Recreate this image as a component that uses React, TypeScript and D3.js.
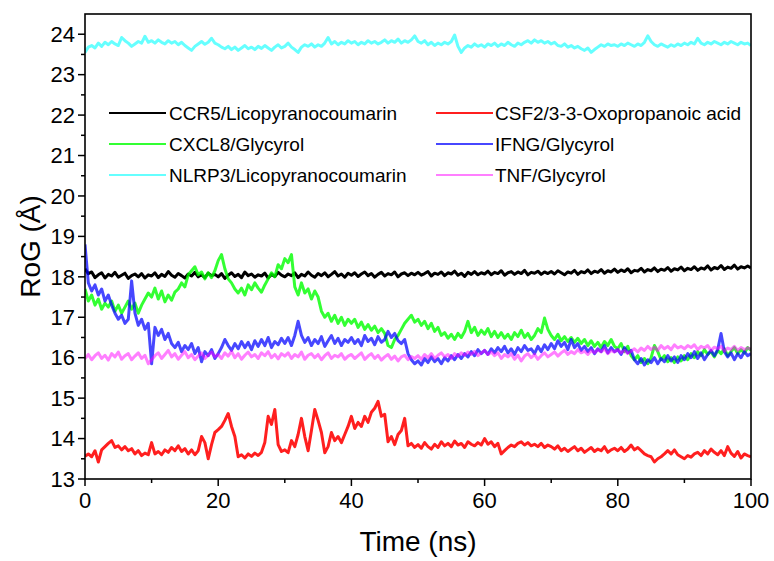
import React from "react";
import * as d3 from "d3";

// RoG traces, one value every 0.5 ns from 0 to 100 ns
const timeStep = 0.5;

const ccr5 = [
  18.20, 18.08, 18.12, 17.98, 18.05, 18.10, 17.97, 18.06, 18.02, 18.11, 17.99, 18.04, 18.09, 17.96, 18.03, 18.07, 18.00, 18.08, 17.97, 18.05,
  18.02, 18.10, 17.98, 18.06, 18.01, 18.13, 18.04, 17.99, 18.08, 18.03, 17.97, 18.07, 18.02, 18.11, 18.00, 18.05, 17.98, 18.09, 18.03, 18.06,
  18.00, 18.08, 17.96, 18.04, 18.10, 18.01, 18.06, 17.98, 18.12, 18.03, 18.07, 17.99, 18.05, 18.02, 18.09, 17.97, 18.06, 18.01, 18.11, 18.04,
  18.00, 18.07, 18.03, 18.10, 17.98, 18.06, 18.02, 18.12, 18.04, 17.99, 18.08, 18.03, 18.10, 18.00, 18.06, 18.13, 18.02, 18.07, 17.99, 18.09,
  18.04, 18.10, 18.01, 18.07, 18.12, 18.03, 18.08, 17.99, 18.06, 18.11, 18.02, 18.08, 18.05, 18.12, 18.00, 18.07, 18.10, 18.03, 18.09, 18.05,
  18.11, 18.04, 18.08, 18.13, 18.02, 18.09, 18.06, 18.12, 18.03, 18.10, 18.07, 18.14, 18.04, 18.09, 18.01, 18.11, 18.06, 18.13, 18.05, 18.10,
  18.07, 18.14, 18.05, 18.11, 18.08, 18.15, 18.04, 18.10, 18.13, 18.06, 18.12, 18.08, 18.16, 18.05, 18.11, 18.09, 18.14, 18.06, 18.12, 18.08,
  18.13, 18.07, 18.15, 18.10, 18.05, 18.12, 18.09, 18.16, 18.06, 18.13, 18.10, 18.17, 18.08, 18.14, 18.11, 18.18, 18.09, 18.15, 18.12, 18.19,
  18.11, 18.17, 18.13, 18.20, 18.10, 18.16, 18.14, 18.21, 18.12, 18.18, 18.15, 18.22, 18.13, 18.19, 18.16, 18.23, 18.14, 18.20, 18.17, 18.24,
  18.15, 18.21, 18.18, 18.25, 18.16, 18.22, 18.19, 18.27, 18.17, 18.23, 18.20, 18.28, 18.18, 18.24, 18.21, 18.29, 18.19, 18.25, 18.22, 18.27,
  18.22,
];

const csf2 = [
  13.56, 13.62, 13.55, 13.70, 13.42, 13.72, 13.80, 13.88, 13.95, 13.78, 13.82, 13.72, 13.80, 13.70, 13.75, 13.62, 13.70, 13.58, 13.64, 13.60,
  13.90, 13.62, 13.68, 13.60, 13.72, 13.66, 13.78, 13.70, 13.82, 13.68, 13.75, 13.62, 13.72, 13.60, 13.70, 14.05, 13.90, 13.50, 13.85, 14.15,
  14.22, 14.30, 14.45, 14.62, 14.30, 14.05, 13.55, 13.60, 13.52, 13.62, 13.56, 13.64, 13.58, 13.66, 13.90, 14.55, 14.35, 14.72, 13.85, 13.68,
  13.72, 13.65, 13.95, 13.80, 14.10, 14.50, 14.05, 13.70, 14.20, 14.72, 14.45, 14.15, 13.65, 13.80, 14.15, 13.95, 14.05, 13.90, 14.10, 14.30,
  14.55, 14.25, 14.40, 14.30, 14.55, 14.40, 14.65, 14.75, 14.92, 14.55, 14.60, 13.92, 14.05, 13.85, 14.10, 14.20, 14.50, 13.82, 13.88, 13.78,
  13.85, 13.76, 13.90, 13.80, 13.74, 13.86, 13.78, 13.92, 13.82, 13.88, 13.80, 13.94, 13.84, 13.88, 13.78, 13.92, 13.86, 13.82, 13.90, 13.84,
  14.00, 13.86, 13.92, 13.80, 13.88, 13.62, 13.70, 13.78, 13.84, 13.80, 13.88, 13.92, 13.84, 13.90, 13.82, 13.86, 13.80, 13.88, 13.78, 13.84,
  13.80, 13.74, 13.82, 13.70, 13.76, 13.68, 13.74, 13.80, 13.70, 13.76, 13.66, 13.72, 13.78, 13.68, 13.74, 13.70, 13.80, 13.66, 13.72, 13.76,
  13.70, 13.78, 13.68, 13.74, 13.84, 13.72, 13.78, 13.70, 13.62, 13.58, 13.55, 13.42, 13.50, 13.55, 13.62, 13.70, 13.62, 13.72, 13.60, 13.55,
  13.50, 13.58, 13.54, 13.62, 13.66, 13.58, 13.70, 13.62, 13.74, 13.66, 13.60, 13.70, 13.58, 13.80, 13.64, 13.56, 13.68, 13.52, 13.62, 13.58,
  13.55,
];

const cxcl8 = [
  17.70, 17.40, 17.55, 17.30, 17.45, 17.20, 17.35, 17.25, 17.40, 17.15, 17.30, 17.10, 17.25, 17.40, 17.20, 17.35, 17.10, 17.30, 17.45, 17.60,
  17.50, 17.72, 17.45, 17.65, 17.38, 17.55, 17.42, 17.62, 17.70, 17.85, 17.75, 18.05, 18.15, 18.25, 18.05, 18.12, 17.95, 18.10, 17.98, 18.15,
  18.40, 18.55, 18.20, 17.95, 17.85, 17.70, 17.60, 17.72, 17.55, 17.80, 17.68, 17.85, 17.72, 17.62, 17.80, 17.95, 18.10, 18.00, 18.30, 18.20,
  18.45, 18.35, 18.55, 17.75, 17.55, 17.85, 17.60, 17.70, 17.45, 17.65, 17.50, 17.15, 17.00, 17.10, 16.90, 17.05, 16.85, 17.00, 16.80, 16.95,
  16.85, 16.95, 16.75, 16.88, 16.70, 16.82, 16.68, 16.78, 16.62, 16.72, 16.60, 16.30, 16.25, 16.45, 16.55, 16.70, 16.85, 16.95, 17.05, 16.88,
  16.95, 16.80, 16.90, 16.72, 16.85, 16.65, 16.75, 16.55, 16.62, 16.48, 16.58, 16.45, 16.60, 16.50, 16.65, 16.90, 16.62, 16.75, 16.55, 16.68,
  16.58, 16.72, 16.52, 16.65, 16.50, 16.62, 16.48, 16.58, 16.45, 16.62, 16.52, 16.68, 16.50, 16.60, 16.45, 16.55, 16.72, 16.62, 16.98, 16.70,
  16.55, 16.45, 16.58, 16.42, 16.52, 16.40, 16.50, 16.38, 16.48, 16.35, 16.45, 16.30, 16.42, 16.28, 16.38, 16.25, 16.40, 16.30, 16.45, 16.28,
  16.22, 16.35, 16.15, 16.28, 16.05, 15.95, 16.05, 15.88, 15.98, 15.85, 16.00, 16.30, 16.15, 15.95, 16.05, 15.90, 16.00, 15.88, 16.02, 15.92,
  16.05, 15.95, 16.10, 16.00, 16.15, 16.05, 16.20, 16.08, 16.15, 16.02, 16.18, 16.10, 16.22, 16.05, 16.15, 16.25, 16.10, 16.20, 16.12, 16.25,
  16.18,
];

const ifng = [
  18.80, 17.85, 17.65, 17.80, 17.55, 17.70, 17.40, 17.55, 17.30, 17.10, 16.95, 17.05, 16.85, 16.95, 17.90, 17.10, 16.80, 16.95, 16.70, 16.85,
  15.85, 16.75, 16.55, 16.70, 16.45, 16.60, 16.35, 16.25, 16.38, 16.15, 16.30, 16.20, 16.35, 16.10, 16.25, 15.90, 16.15, 16.05, 16.20, 15.98,
  16.10, 16.25, 16.45, 16.30, 16.18, 16.35, 16.22, 16.40, 16.25, 16.38, 16.20, 16.42, 16.28, 16.45, 16.30, 16.50, 16.25, 16.40, 16.32, 16.48,
  16.35, 16.50, 16.30, 16.55, 16.90, 16.55, 16.38, 16.50, 16.30, 16.45, 16.35, 16.52, 16.28, 16.42, 16.55, 16.35, 16.48, 16.30, 16.45, 16.38,
  16.50, 16.35, 16.45, 16.30, 16.55, 16.40, 16.48, 16.32, 16.52, 16.38, 16.45, 16.65, 16.50, 16.60, 16.42, 16.35, 16.45, 16.10, 15.95, 15.85,
  15.92, 15.82, 15.98, 15.88, 16.02, 15.90, 15.98, 15.85, 16.00, 15.92, 16.05, 15.95, 16.08, 15.98, 16.10, 16.02, 16.15, 16.05, 16.20, 16.10,
  16.18, 16.08, 16.22, 16.12, 16.25, 16.15, 16.28, 16.12, 16.22, 16.08, 16.25, 16.15, 16.30, 16.18, 16.22, 16.10, 16.28, 16.15, 16.32, 16.20,
  16.35, 16.22, 16.42, 16.28, 16.38, 16.20, 16.45, 16.25, 16.35, 16.18, 16.28, 16.15, 16.25, 16.10, 16.22, 16.15, 16.30, 16.12, 16.25, 16.15,
  16.20, 16.08, 16.25, 16.12, 16.18, 15.95, 15.85, 15.98, 15.82, 15.95, 15.88, 16.00, 15.85, 15.98, 15.90, 16.05, 15.92, 16.02, 15.88, 16.05,
  15.95, 16.10, 16.00, 16.15, 15.98, 16.12, 15.95, 16.08, 16.18, 16.05, 16.20, 16.60, 16.15, 16.02, 16.12, 15.95, 16.10, 16.00, 16.15, 16.05,
  16.10,
];

const nlrp3 = [
  23.55, 23.68, 23.72, 23.66, 23.78, 23.70, 23.80, 23.74, 23.82, 23.76, 23.72, 23.92, 23.84, 23.78, 23.70, 23.76, 23.82, 23.78, 23.95, 23.80,
  23.84, 23.78, 23.86, 23.80, 23.76, 23.84, 23.78, 23.82, 23.74, 23.80, 23.72, 23.66, 23.60, 23.70, 23.76, 23.82, 23.75, 23.80, 23.90, 23.78,
  23.74, 23.68, 23.64, 23.70, 23.62, 23.68, 23.60, 23.66, 23.72, 23.64, 23.68, 23.62, 23.70, 23.65, 23.72, 23.66, 23.60, 23.68, 23.74, 23.66,
  23.70, 23.78, 23.68, 23.62, 23.55, 23.68, 23.74, 23.70, 23.76, 23.68, 23.74, 23.70, 23.78, 23.92, 23.76, 23.82, 23.74, 23.80, 23.76, 23.84,
  23.78, 23.82, 23.74, 23.80, 23.76, 23.84, 23.78, 23.82, 23.76, 23.80, 23.86, 23.78, 23.84, 23.80, 23.88, 23.78, 23.84, 23.80, 23.86, 23.96,
  23.82, 23.78, 23.84, 23.74, 23.80, 23.72, 23.78, 23.74, 23.80, 23.76, 23.82, 23.98, 23.70, 23.55, 23.66, 23.72, 23.68, 23.76, 23.70, 23.74,
  23.68, 23.76, 23.72, 23.78, 23.70, 23.76, 23.72, 23.80, 23.74, 23.70, 23.78, 23.74, 23.80, 23.84, 23.78, 23.86, 23.80, 23.84, 23.78, 23.82,
  23.76, 23.80, 23.72, 23.70, 23.76, 23.68, 23.72, 23.66, 23.70, 23.64, 23.60, 23.66, 23.55, 23.62, 23.68, 23.74, 23.70, 23.76, 23.72, 23.74,
  23.70, 23.76, 23.72, 23.78, 23.74, 23.70, 23.76, 23.72, 23.80, 23.96, 23.82, 23.74, 23.70, 23.76, 23.72, 23.68, 23.74, 23.70, 23.76, 23.72,
  23.78, 23.74, 23.80, 23.76, 23.90, 23.78, 23.74, 23.80, 23.76, 23.82, 23.78, 23.74, 23.80, 23.76, 23.82, 23.78, 23.74, 23.80, 23.76, 23.78,
  23.72,
];

const tnf = [
  15.98, 16.08, 15.95, 16.05, 16.12, 15.98, 16.06, 15.94, 16.10, 16.02, 16.14, 15.96, 16.05, 16.10, 15.95, 16.04, 16.12, 15.98, 16.06, 15.85,
  15.95, 16.05, 16.12, 15.98, 16.08, 16.18, 16.02, 16.10, 15.96, 16.06, 16.15, 16.00, 16.08, 15.95, 16.04, 16.12, 15.98, 16.06, 16.14, 16.02,
  16.08, 15.98, 16.12, 16.04, 16.16, 16.00, 16.10, 15.96, 16.06, 16.14, 16.02, 16.08, 15.98, 16.12, 16.05, 16.15, 16.00, 16.08, 15.97, 16.10,
  16.04, 16.12, 15.98, 16.08, 16.02, 16.14, 15.96, 16.06, 16.10, 16.00, 16.08, 15.95, 16.05, 16.12, 15.98, 16.06, 16.02, 16.10, 15.96, 16.04,
  16.08, 15.98, 16.05, 16.12, 15.96, 16.04, 16.10, 15.98, 16.06, 15.94, 16.02, 16.08, 15.96, 16.04, 15.92, 16.02, 16.06, 15.95, 16.03, 15.98,
  16.05, 15.96, 16.08, 16.00, 16.10, 15.98, 16.06, 16.12, 16.02, 16.08, 15.98, 16.10, 16.04, 16.12, 16.06, 16.14, 16.08, 16.16, 16.05, 16.12,
  16.18, 16.08, 16.14, 16.05, 16.12, 15.98, 16.08, 16.02, 16.10, 15.96, 16.06, 15.92, 16.04, 16.10, 16.00, 16.08, 15.96, 16.05, 16.12, 16.02,
  16.08, 16.14, 16.04, 16.12, 16.18, 16.08, 16.15, 16.10, 16.20, 16.12, 16.16, 16.08, 16.18, 16.12, 16.20, 16.14, 16.22, 16.10, 16.18, 16.14,
  16.20, 16.12, 16.18, 16.10, 16.16, 16.22, 16.14, 16.24, 16.18, 16.28, 16.20, 16.26, 16.18, 16.30, 16.22, 16.28, 16.20, 16.32, 16.24, 16.28,
  16.22, 16.30, 16.25, 16.32, 16.20, 16.28, 16.24, 16.30, 16.18, 16.26, 16.22, 16.28, 16.16, 16.24, 16.20, 16.28, 16.18, 16.25, 16.20, 16.24,
  16.22,
];

const seriesNames = [
  "CCR5/Licopyranocoumarin",
  "CSF2/3-3-Oxopropanoic acid",
  "CXCL8/Glycyrol",
  "IFNG/Glycyrol",
  "NLRP3/Licopyranocoumarin",
  "TNF/Glycyrol",
];
const seriesValues = [ccr5, csf2, cxcl8, ifng, nlrp3, tnf];
const seriesColors = ["#000000", "#ff0000", "#00ff00", "#0000ff", "#00ffff", "#ff00ff"];
const seriesOpacity = [1, 0.88, 0.8, 0.72, 0.6, 0.5];

const xTicks = [0, 20, 40, 60, 80, 100];
const yTicks = [13, 14, 15, 16, 17, 18, 19, 20, 21, 22, 23, 24];

const W = 774;
const H = 561;
const left = 85;
const right = 751;
const top = 14;
const bottom = 479;
const font = "'Liberation Sans', Arial, Helvetica, sans-serif";

const App = () => {
  const x = d3.scaleLinear().domain([0, 100]).range([left, right]);
  const y = d3.scaleLinear().domain([13, 24.5]).range([bottom, top]);

  const line = d3
    .line<number>()
    .x((d, i) => x(i * timeStep))
    .y((d) => y(d));

  const xMinor = d3.range(10, 100, 20);
  const yMinor = d3.range(13.5, 24.5, 1);

  // legend: two columns, row by row like the source
  const legendRows = [113, 144, 175];
  const legendCols = [
    { x1: 109, x2: 166, tx: 169 },
    { x1: 436, x2: 493, tx: 495 },
  ];

  return (
    <svg
      width={W}
      height={H}
      style={{ position: "absolute", left: 0, top: 0, background: "#fff" }}
      fontFamily={font}
    >
      <defs>
        <clipPath id="plot">
          <rect x={left} y={top} width={right - left} height={bottom - top} />
        </clipPath>
      </defs>

      <g clipPath="url(#plot)">
        {seriesValues.map((vals, i) => (
          <path
            key={seriesNames[i]}
            d={line(vals) || ""}
            fill="none"
            stroke={seriesColors[i]}
            strokeOpacity={seriesOpacity[i]}
            strokeWidth={3}
            strokeLinejoin="round"
          />
        ))}
      </g>

      <rect
        x={left}
        y={top}
        width={right - left}
        height={bottom - top}
        fill="none"
        stroke="#000"
        strokeWidth={1.6}
      />

      {/* y axis */}
      {yTicks.map((t) => (
        <g key={"y" + t}>
          <line x1={left - 7} x2={left} y1={y(t)} y2={y(t)} stroke="#000" strokeWidth={1.5} />
          <text x={left - 10} y={y(t)} dy="0.35em" fontSize={22} textAnchor="end">
            {t}
          </text>
        </g>
      ))}
      {yMinor.map((t) => (
        <line key={"ym" + t} x1={left - 4} x2={left} y1={y(t)} y2={y(t)} stroke="#000" strokeWidth={1.5} />
      ))}

      {/* x axis */}
      {xTicks.map((t) => (
        <g key={"x" + t}>
          <line x1={x(t)} x2={x(t)} y1={bottom} y2={bottom + 7} stroke="#000" strokeWidth={1.5} />
          <text x={x(t)} y={bottom + 29} fontSize={22} textAnchor="middle">
            {t}
          </text>
        </g>
      ))}
      {xMinor.map((t) => (
        <line key={"xm" + t} x1={x(t)} x2={x(t)} y1={bottom} y2={bottom + 4} stroke="#000" strokeWidth={1.5} />
      ))}

      <text x={(left + right) / 2} y={551} fontSize={28} textAnchor="middle">
        Time (ns)
      </text>
      <text
        transform={`translate(40, ${(top + bottom) / 2}) rotate(-90)`}
        fontSize={28}
        textAnchor="middle"
      >
        RoG (Å)
      </text>

      {/* legend */}
      {seriesNames.map((name, i) => {
        const col = legendCols[i % 2];
        const ly = legendRows[Math.floor(i / 2)];
        return (
          <g key={"lg" + name}>
            <line
              x1={col.x1}
              x2={col.x2}
              y1={ly}
              y2={ly}
              stroke={seriesColors[i]}
              strokeOpacity={seriesOpacity[i]}
              strokeWidth={2}
            />
            <text x={col.tx} y={ly} dy="0.36em" fontSize={19}>
              {name}
            </text>
          </g>
        );
      })}
    </svg>
  );
};

export default App;
